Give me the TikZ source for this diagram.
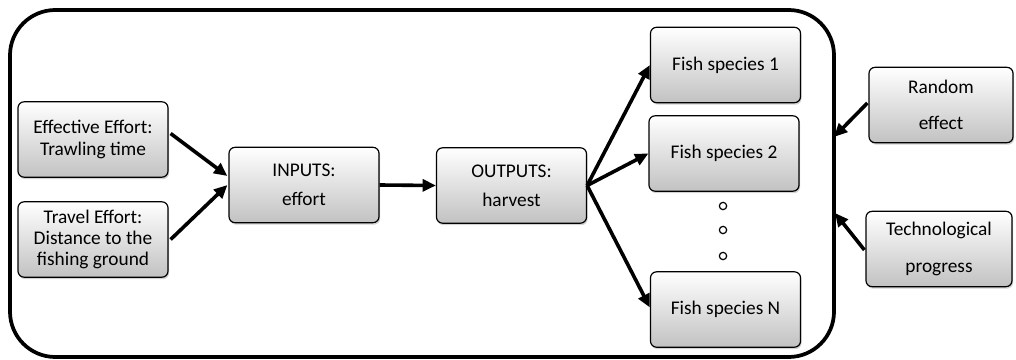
\documentclass[tikz,border=0pt]{standalone}
\usepackage{fontspec}
\setmainfont{Carlito}
\usetikzlibrary{shadows,arrows.meta,calc}
\begin{document}
\begin{tikzpicture}[x=0.75pt,y=-0.75pt,
  box/.style={draw=black, line width=0.9pt, rounded corners=4.5pt,
    top color=white, bottom color=black!24, align=center,
    minimum width=112.5pt, minimum height=56.5pt, inner sep=0pt,
    drop shadow={opacity=0.35, shadow xshift=0.8pt, shadow yshift=-1.5pt},
    font=\fontsize{14.5}{16}\selectfont},
  wide/.style={font=\fontsize{14.5}{22}\selectfont},
  wider/.style={font=\fontsize{14.5}{27.5}\selectfont},
  arr/.style={line width=2.7pt, -{Triangle[length=10pt,width=9pt]}},
  dot/.style={circle, draw=black, line width=0.9pt, minimum size=5.5pt, inner sep=0pt}]
\useasboundingbox (0,0) rectangle (1016,360);
\draw[line width=2.8pt, rounded corners=34pt] (10,10) rectangle (834,357);
\coordinate (rin) at (834,137);
\coordinate (tin) at (835,213);
\node[box] (eff) at (93,139.5) {Effective Effort:\\Trawling time};
\node[box] (trav) at (93,239.5) {Travel Effort:\\Distance to the\\fishing ground};
\node[box,wide] (inp) at (304,185) {INPUTS:\\effort};
\node[box,wide] (outp) at (511.5,185.5) {OUTPUTS:\\harvest};
\node[box] (f1) at (725.5,65) {Fish species 1};
\node[box] (f2) at (724,153.5) {Fish species 2};
\node[box] (fN) at (725.5,309.5) {Fish species N};
\node[box,wider,minimum width=108pt] (rand) at (941,105) {Random\\effect};
\node[box,wider,minimum width=109.5pt] (tech) at (939,249) {Technological\\progress};
\node[dot] (d1) at (723,206) {};
\node[dot] (d2) at (723,230) {};
\node[dot] (d3) at (723,256) {};
\draw[arr] ($(eff.east)+(2,-6)$) -- ($(inp.west)+(-1,-9)$);
\draw[arr] ($(trav.east)+(2,0)$) -- ($(inp.west)+(-1,0)$);
\draw[arr] (inp.east) -- (outp.west);
\draw[arr] (outp.east) -- (f1.west);
\draw[arr] (outp.east) -- (f2.west);
\draw[arr] (outp.east) -- ($(fN.west)+(0,-2)$);
\draw[arr] ($(rand.west)+(-1,-2)$) -- (rin);
\draw[arr] ($(tech.west)+(-1,1)$) -- (tin);
\end{tikzpicture}
\end{document}
